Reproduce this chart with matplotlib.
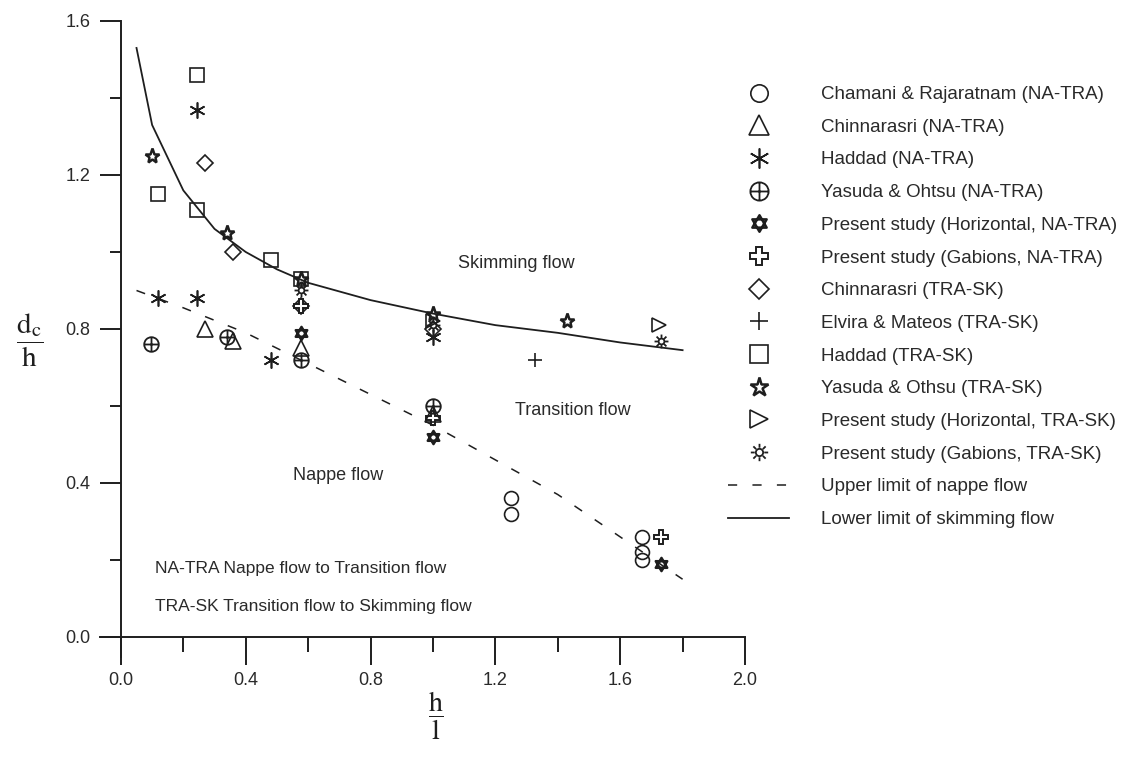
import numpy as np
import matplotlib
matplotlib.use("Agg")
import matplotlib.pyplot as plt
from matplotlib.path import Path

plt.rcParams['font.family'] = ['Liberation Sans', 'DejaVu Sans']
plt.rcParams['mathtext.fontset'] = 'stix'

INK = '#1e1e1e'
TXT = '#2a2a2a'

# ---- data (h/l , dc/h) ----
cham_x = [1.25, 1.25, 1.67, 1.67, 1.67]
cham_y = [0.36, 0.32, 0.26, 0.22, 0.20]
chin_na_x = [0.27, 0.36, 0.577, 1.0]
chin_na_y = [0.80, 0.77, 0.75, 0.58]
hadd_na_x = [0.244, 0.12, 0.244, 0.48, 1.0]
hadd_na_y = [1.37, 0.88, 0.88, 0.72, 0.78]
yas_na_x = [0.096, 0.34, 0.577, 1.0]
yas_na_y = [0.76, 0.78, 0.72, 0.60]
ph_na_x = [0.577, 1.0, 1.73]
ph_na_y = [0.79, 0.52, 0.19]
pg_na_x = [0.577, 1.0, 1.73]
pg_na_y = [0.86, 0.57, 0.26]
chin_sk_x = [0.27, 0.36, 0.577, 1.0]
chin_sk_y = [1.23, 1.00, 0.86, 0.80]
elv_x = [1.327]
elv_y = [0.72]
hadd_sk_x = [0.244, 0.12, 0.244, 0.48, 0.577]
hadd_sk_y = [1.46, 1.15, 1.11, 0.98, 0.93]
yas_sk_x = [0.10, 0.34, 0.577, 1.0, 1.43]
yas_sk_y = [1.25, 1.05, 0.93, 0.84, 0.82]
ph_sk_x = [1.0, 1.725]
ph_sk_y = [0.82, 0.81]
pg_sk_x = [0.577, 1.0, 1.73]
pg_sk_y = [0.90, 0.81, 0.77]

upper_x = [0.05, 0.2, 0.4, 0.6, 0.8, 1.0, 1.2, 1.4, 1.6, 1.8]
upper_y = [0.90, 0.855, 0.79, 0.71, 0.63, 0.55, 0.46, 0.37, 0.26, 0.15]
lower_x = [0.05, 0.10, 0.20, 0.30, 0.40, 0.50, 0.60, 0.80, 1.00, 1.20, 1.40, 1.60, 1.80]
lower_y = [1.53, 1.33, 1.16, 1.06, 1.00, 0.955, 0.92, 0.875, 0.84, 0.81, 0.79, 0.765, 0.745]

labels = ['Chamani & Rajaratnam (NA-TRA)', 'Chinnarasri (NA-TRA)', 'Haddad (NA-TRA)',
          'Yasuda & Ohtsu (NA-TRA)', 'Present study (Horizontal, NA-TRA)',
          'Present study (Gabions, NA-TRA)', 'Chinnarasri (TRA-SK)', 'Elvira & Mateos (TRA-SK)',
          'Haddad (TRA-SK)', 'Yasuda & Othsu (TRA-SK)', 'Present study (Horizontal, TRA-SK)',
          'Present study (Gabions, TRA-SK)', 'Upper limit of nappe flow',
          'Lower limit of skimming flow']


# ---- custom marker shapes ----
def poly(angles, r=1.0):
    a = np.deg2rad(angles)
    v = np.c_[r * np.cos(a), r * np.sin(a)]
    v = np.vstack([v, v[:1]])
    codes = [Path.MOVETO] + [Path.LINETO] * (len(v) - 2) + [Path.CLOSEPOLY]
    return Path(v, codes)


cross = Path([[-1, 0], [1, 0], [0, -1], [0, 1]],
             [Path.MOVETO, Path.LINETO, Path.MOVETO, Path.LINETO])
oplus = Path.make_compound_path(Path.unit_circle(), cross)
hexagram = Path.make_compound_path(poly([90, 210, 330]), poly([270, 30, 150]))
rays = []
for ang in np.deg2rad(np.arange(0, 360, 45)):
    rays.append(Path([[0.55 * np.cos(ang), 0.55 * np.sin(ang)], [np.cos(ang), np.sin(ang)]],
                     [Path.MOVETO, Path.LINETO]))
sun = Path.make_compound_path(Path.circle((0, 0), 0.42), *rays)

series = [
    (cham_x, cham_y, dict(marker='o', ms=10, mew=1.2)),
    (chin_na_x, chin_na_y, dict(marker='^', ms=11, mew=1.2)),
    (hadd_na_x, hadd_na_y, dict(marker=(6, 2, 0), ms=11.5, mew=1.2)),
    (yas_na_x, yas_na_y, dict(marker=oplus, ms=10.5, mew=1.3)),
    (ph_na_x, ph_na_y, dict(marker=hexagram, ms=9.5, mew=1.8)),
    (pg_na_x, pg_na_y, dict(marker='P', ms=10, mew=1.4)),
    (chin_sk_x, chin_sk_y, dict(marker='D', ms=8, mew=1.2)),
    (elv_x, elv_y, dict(marker='+', ms=10, mew=1.2)),
    (hadd_sk_x, hadd_sk_y, dict(marker='s', ms=10.5, mew=1.2)),
    (yas_sk_x, yas_sk_y, dict(marker='*', ms=11, mew=1.8)),
    (ph_sk_x, ph_sk_y, dict(marker='>', ms=10.5, mew=1.2)),
    (pg_sk_x, pg_sk_y, dict(marker=sun, ms=10, mew=1.3)),
]

fig = plt.figure(figsize=(11.27, 7.58), dpi=100)
ax = fig.add_axes([100 / 1127, 1 - 657 / 758, 645 / 1127, 636 / 758])

handles = []
for xs, ys, kw in series:
    h, = ax.plot(xs, ys, ls='none', color=INK, mfc='none', mec=INK, **kw)
    handles.append(h)

h_up, = ax.plot(upper_x, upper_y, color=INK, lw=1.1, dashes=(6, 10))
h_lo, = ax.plot(lower_x, lower_y, color=INK, lw=1.3)
handles += [h_up, h_lo]

ax.set_xlim(-0.067, 2.0)
ax.set_ylim(-0.052, 1.6)
for s in ['top', 'right']:
    ax.spines[s].set_visible(False)
ax.spines['left'].set_position(('data', 0))
ax.spines['bottom'].set_position(('data', 0))
for s in ['left', 'bottom']:
    ax.spines[s].set_linewidth(1.4)
    ax.spines[s].set_color(INK)

ax.set_xticks([0, 0.4, 0.8, 1.2, 1.6, 2.0])
ax.set_xticks([0.2, 0.6, 1.0, 1.4, 1.8], minor=True)
ax.set_yticks([0, 0.4, 0.8, 1.2, 1.6])
ax.set_yticks([0.2, 0.6, 1.0, 1.4], minor=True)
ax.set_xticklabels(['%.1f' % v for v in ax.get_xticks()])
ax.set_yticklabels(['%.1f' % v for v in ax.get_yticks()])
ax.tick_params(axis='x', which='major', length=20, width=1.4, pad=5, labelsize=13,
               color=INK, labelcolor=TXT)
ax.tick_params(axis='x', which='minor', length=11, width=1.4, color=INK)
ax.tick_params(axis='y', which='major', length=15, width=1.4, pad=7, labelsize=13,
               color=INK, labelcolor=TXT)
ax.tick_params(axis='y', which='minor', length=8, width=1.4, color=INK)

# region annotations
fs = 13
ax.text(1.08, 0.97, 'Skimming flow', fontsize=fs, color=TXT, va='center')
ax.text(1.263, 0.587, 'Transition flow', fontsize=fs, color=TXT, va='center')
ax.text(0.55, 0.42, 'Nappe flow', fontsize=fs, color=TXT, va='center')
ax.text(0.109, 0.177, 'NA-TRA Nappe flow to Transition flow', fontsize=12.5, color=TXT, va='center')
ax.text(0.109, 0.08, 'TRA-SK Transition flow to Skimming flow', fontsize=12.5, color=TXT, va='center')

# fraction axis labels
fig.text(30 / 1127, 1 - 340 / 758, r'$\dfrac{\mathrm{d_c}}{\mathrm{h}}$', fontsize=21,
         ha='center', va='center', color=INK)
fig.text(436 / 1127, 1 - 716 / 758, r'$\dfrac{\mathrm{h}}{\mathrm{l}}$', fontsize=20,
         ha='center', va='center', color=INK)

lfs = 13.5
fig.legend(handles, labels, loc='upper left', bbox_to_anchor=(728 / 1127, 1 - 86 / 758),
           frameon=False, fontsize=lfs, labelspacing=0.83, handlelength=44 / lfs,
           handletextpad=23 / lfs, borderpad=0, borderaxespad=0, labelcolor=TXT,
           markerscale=1.25)

fig.savefig('out.png', dpi=100)
